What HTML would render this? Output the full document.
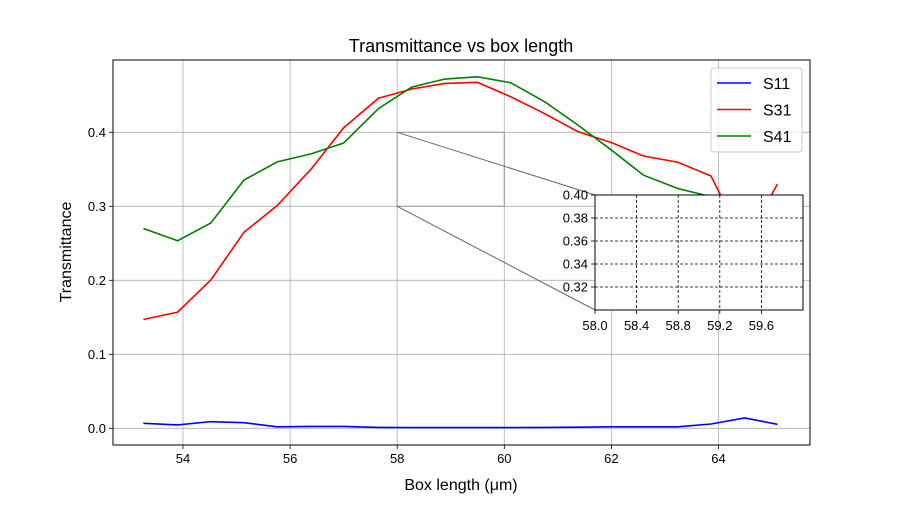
<!DOCTYPE html>
<html><head><meta charset="utf-8"><style>
body{margin:0;background:#fff;}
svg{font-family:"Liberation Sans","DejaVu Sans",sans-serif;}
</style></head><body>
<svg id="chart" width="900" height="500">
<rect width="900" height="500" fill="#fff"/>
<g id="grid"></g>
<g id="series"></g>
<g id="zoomind"></g>
<g id="axes"></g>
<g id="inset"></g>
<g id="legend"></g>
</svg>
<script>
const xVals=[53.26,53.9,54.52,55.14,55.76,56.4,57.0,57.65,58.27,58.89,59.5,60.12,60.76,61.37,62.0,62.6,63.24,63.86,64.49,65.1];
const s11=[0.0068,0.0045,0.009,0.0076,0.002,0.0025,0.0025,0.0012,0.001,0.001,0.001,0.001,0.0012,0.0015,0.002,0.002,0.002,0.0058,0.014,0.0054];
const s31=[0.147,0.157,0.2005,0.265,0.301,0.351,0.406,0.446,0.4585,0.466,0.4675,0.448,0.425,0.401,0.386,0.368,0.3595,0.341,0.25,0.330];
const s41=[0.270,0.2535,0.2775,0.3355,0.360,0.371,0.3855,0.432,0.461,0.472,0.475,0.467,0.441,0.41,0.376,0.342,0.324,0.313,0.30,0.29];
const xTicks=[54,56,58,60,62,64];
const yTicks=[0.0,0.1,0.2,0.3,0.4];
const insetXTicks=[58.0,58.4,58.8,59.2,59.6];
const insetYTicks=[0.32,0.34,0.36,0.38,0.40];
const NS="http://www.w3.org/2000/svg";
const L=113,R=810,T=60,B=445;
const X=v=>183+(v-54)*53.55;
const Y=v=>428.3-v*740;
function mk(tag,attrs,parent,text){const e=document.createElementNS(NS,tag);for(const k in attrs)e.setAttribute(k,attrs[k]);if(text!==undefined)e.textContent=text;parent.appendChild(e);return e;}
const g=document.getElementById('grid'),sg=document.getElementById('series'),ax=document.getElementById('axes'),zi=document.getElementById('zoomind'),ins=document.getElementById('inset'),lg=document.getElementById('legend');
xTicks.forEach(t=>{const x=X(t);
 const l=mk('line',{x1:x,x2:x,y1:T,y2:B,stroke:'#b0b0b0','stroke-width':0.8},g);
 
 mk('line',{x1:x,x2:x,y1:B,y2:B+4,stroke:'#000','stroke-width':0.8},ax);
 const tx=mk('text',{x:x,y:B+18,'font-size':13,'text-anchor':'middle'},ax,String(t));
 });
yTicks.forEach(t=>{const y=Y(t);
 const l=mk('line',{x1:L,x2:R,y1:y,y2:y,stroke:'#b0b0b0','stroke-width':0.8},g);
 
 mk('line',{x1:L-4,x2:L,y1:y,y2:y,stroke:'#000','stroke-width':0.8},ax);
 const tx=mk('text',{x:L-7,y:y+4.5,'font-size':13,'text-anchor':'end'},ax,t.toFixed(1));
 });
const series=[['s11-line',s11,'#0000ff'],['s31-line',s31,'#ff0000'],['s41-line',s41,'#008000']];
series.forEach(([n,d,c])=>{const p=mk('polyline',{points:d.map((v,i)=>X(xVals[i])+','+Y(v)).join(' '),fill:'none',stroke:c,'stroke-width':1.6},sg);
 });
// zoom indicator
const zr=mk('rect',{x:X(58),y:Y(0.4),width:X(60)-X(58),height:Y(0.3)-Y(0.4),fill:'none',stroke:'#999','stroke-width':1.2,opacity:0.8},zi);

const IL=595,IR=803,IT=195,IB=310;
const c1=mk('line',{x1:X(58),y1:Y(0.4),x2:IL,y2:IT,stroke:'#666','stroke-width':1},zi);

const c2=mk('line',{x1:X(58),y1:Y(0.3),x2:IL,y2:IB,stroke:'#666','stroke-width':1},zi);

const frame=mk('rect',{x:L,y:T,width:R-L,height:B-T,fill:'none',stroke:'#000','stroke-width':1},ax);

const ti=mk('text',{x:461,y:52,'font-size':18,'text-anchor':'middle'},ax,'Transmittance vs box length');

const xl=mk('text',{x:461,y:490,'font-size':16,'text-anchor':'middle'},ax,'Box length (μm)');

const yl=mk('text',{x:71,y:252,'font-size':16,'text-anchor':'middle',transform:'rotate(-90 71 252)'},ax,'Transmittance');

// inset
const IX=v=>IL+(v-58)*(IR-IL)/2, IY=v=>IT+(0.4-v)*(IB-IT)/0.1;
const ibg=mk('rect',{x:IL,y:IT,width:IR-IL,height:IB-IT,fill:'#fff',stroke:'none'},ins);

insetXTicks.forEach(t=>{const x=IX(t);
 if(t>58){const l=mk('line',{x1:x,x2:x,y1:IT,y2:IB,stroke:'#000','stroke-width':0.8,'stroke-dasharray':'3,2'},ins);}
 mk('line',{x1:x,x2:x,y1:IB,y2:IB+4,stroke:'#000','stroke-width':0.8},ins);
 const tx=mk('text',{x:x,y:IB+20,'font-size':13,'text-anchor':'middle'},ins,t.toFixed(1));
 });
insetYTicks.forEach(t=>{const y=IY(t);
 if(t<0.4){const l=mk('line',{x1:IL,x2:IR,y1:y,y2:y,stroke:'#000','stroke-width':0.8,'stroke-dasharray':'3,2'},ins);}
 mk('line',{x1:IL-4,x2:IL,y1:y,y2:y,stroke:'#000','stroke-width':0.8},ins);
 const tx=mk('text',{x:IL-7,y:y+4.5,'font-size':13,'text-anchor':'end'},ins,t.toFixed(2));
 });
const ifr=mk('rect',{x:IL,y:IT,width:IR-IL,height:IB-IT,fill:'none',stroke:'#000','stroke-width':1},ins);

// legend
const lb=mk('rect',{x:711,y:68,width:91,height:84,rx:3,fill:'#fff','fill-opacity':0.8,stroke:'#ccc'},lg);

[['S11','#0000ff'],['S31','#ff0000'],['S41','#008000']].forEach(([n,c],i)=>{const y=83+i*26.5;
 const ln=mk('line',{x1:717,x2:751,y1:y,y2:y,stroke:c,'stroke-width':1.6},lg);
 
 const t=mk('text',{x:763,y:y+6,'font-size':16},lg,n);
 });
</script>
</body></html>
